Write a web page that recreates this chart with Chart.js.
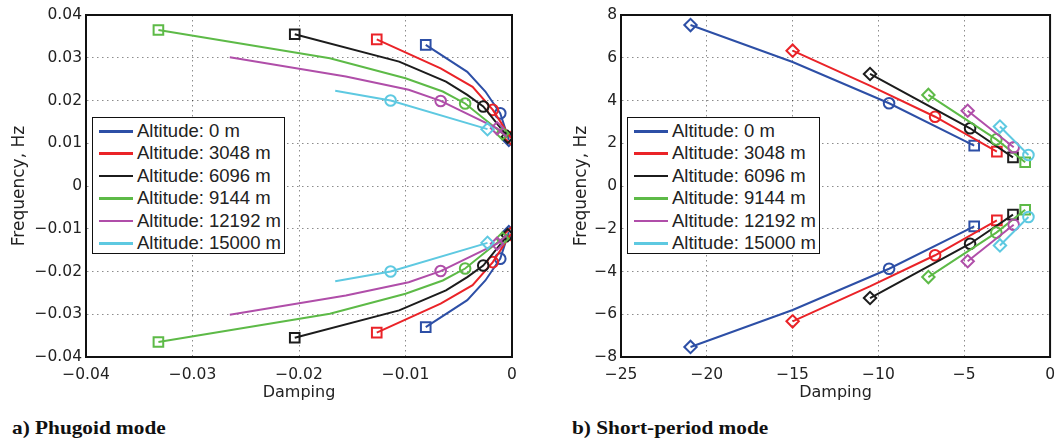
<!DOCTYPE html>
<html>
<head>
<meta charset="utf-8">
<script src="https://cdn.jsdelivr.net/npm/chart.js@4/dist/chart.umd.min.js"></script>
<style>
  html, body { margin: 0; padding: 0; background: #fff; }
  #wrap { position: relative; width: 1064px; height: 439px; overflow: hidden; }
  canvas { position: absolute; top: 0; }
  .legend {
    position: absolute; top: 117px; width: 191px; height: 135px;
    border: 1.5px solid #111; background: #fff;
    font-family: "Liberation Sans", Arial, sans-serif; font-size: 18.5px; color: #222;
  }
  .legend .row { position: absolute; left: 0; height: 22px; line-height: 22px; white-space: nowrap; }
  .legend .swatch { position: absolute; left: 6px; top: 10px; width: 34px; height: 2.5px; }
  .legend .lbl { position: absolute; left: 44px; top: 0; }
  .caption {
    position: absolute; top: 418px; line-height: 19px; white-space: nowrap;
    transform: scaleX(1.12); transform-origin: left top;
    font-family: "Liberation Serif", "Times New Roman", serif; font-weight: bold; font-size: 19px; color: #111;
  }
</style>
</head>
<body>
<div id="wrap">
  <canvas id="phugoid" width="540" height="410" style="left:0"></canvas>
  <canvas id="shortPeriod" width="524" height="410" style="left:540px"></canvas>
  <div class="legend" id="legendA" style="left:92px"></div>
  <div class="legend" id="legendB" style="left:627px"></div>
  <div class="caption" style="left:12px">a) Phugoid mode</div>
  <div class="caption" style="left:572px">b) Short-period mode</div>
</div>
<script>
// --- dados ---
const altitudes = ['0 m', '3048 m', '6096 m', '9144 m', '12192 m', '15000 m'];
const colors = ['#2d4fa6', '#ea2328', '#1c1c1c', '#5dba47', '#b04ea9', '#5ec9e1'];

// Modo fugoide (ramo superior; o inferior é o espelho)
const phugoidDamping = [
  [-0.0081, -0.0042, -0.0025, -0.0011, -0.0003],
  [-0.0127, -0.0067, -0.0037, -0.0018, -0.0001],
  [-0.0204, -0.0106, -0.0062, -0.0042, -0.0027, -0.0004],
  [-0.0332, -0.0171, -0.0100, -0.0065, -0.0044, -0.0009, -0.0004],
  [-0.0265, -0.0156, -0.0097, -0.0067, -0.0014, -0.0005],
  [-0.0166, -0.0114, -0.0023]
];
const phugoidFreq = [
  [0.0330, 0.0267, 0.0221, 0.0170, 0.0108],
  [0.0343, 0.0275, 0.0232, 0.0178, 0.0112],
  [0.0355, 0.0291, 0.0244, 0.0213, 0.0186, 0.0115],
  [0.0365, 0.0299, 0.0252, 0.0221, 0.0193, 0.0123, 0.0113],
  [0.0301, 0.0256, 0.0225, 0.0199, 0.0135, 0.0115],
  [0.0223, 0.0200, 0.0133]
];
const phugoidMarkers = [
  ['rect', null, null, 'circle', 'rectRot'],
  ['rect', null, null, 'circle', 'rectRot'],
  ['rect', null, null, null, 'circle', 'rectRot'],
  ['rect', null, null, null, 'circle', 'rectRot', null],
  [null, null, null, 'circle', 'rectRot', null],
  [null, 'circle', 'rectRot']
];

// Modo de período curto
const shortDamping = [
  [-20.95, -15.0, -9.38, -4.42],
  [-15.0, -10.5, -6.70, -3.10],
  [-10.49, -4.66, -2.16],
  [-7.09, -3.13, -1.45],
  [-4.80, -2.12],
  [-2.92, -1.26]
];
const shortFreq = [
  [7.53, 5.80, 3.87, 1.89],
  [6.33, 4.70, 3.24, 1.61],
  [5.24, 2.70, 1.34],
  [4.26, 2.18, 1.11],
  [3.52, 1.81],
  [2.78, 1.45]
];
const shortMarkers = [
  ['rectRot', null, 'circle', 'rect'],
  ['rectRot', null, 'circle', 'rect'],
  ['rectRot', 'circle', 'rect'],
  ['rectRot', 'circle', 'rect'],
  ['rectRot', 'circle'],
  ['rectRot', 'circle']
];

const phugoidXTicks = [-0.04, 0];
const phugoidYTicks = [-0.04, 0.04];
const shortXTicks = [-25, 0];
const shortYTicks = [-8, 8];

// --- helpers ---
const markerSize = { rect: 6.8, circle: 5.3, rectRot: 6.2 };

function fmt(v, dec) {
  const r = Number(v.toFixed(dec));
  return r < 0 ? '\u2212' + Math.abs(r) : String(r);
}

function buildDatasets(damping, freq, markers) {
  const sets = [];
  damping.forEach((xs, i) => {
    [1, -1].forEach(sign => {
      sets.push({
        data: xs.map((x, j) => ({ x: x, y: sign * freq[i][j] })),
        showLine: true,
        borderColor: colors[i],
        borderWidth: 2,
        backgroundColor: 'rgba(0,0,0,0)',
        pointBackgroundColor: 'rgba(0,0,0,0)',
        pointBorderColor: colors[i],
        pointBorderWidth: 2,
        pointStyle: markers[i].map(m => m || 'circle'),
        pointRadius: markers[i].map(m => m ? markerSize[m] : 0),
        tension: 0,
        order: 5 - i
      });
    });
  });
  return sets;
}

// moldura preta em volta da área do gráfico
const framePlugin = {
  id: 'frame',
  afterDraw(chart) {
    const { ctx, chartArea: a } = chart;
    ctx.save();
    ctx.strokeStyle = '#111';
    ctx.lineWidth = 2;
    ctx.strokeRect(a.left, a.top, a.right - a.left, a.bottom - a.top);
    ctx.restore();
  }
};

function makeChart(id, sets, o) {
  const tickFont = { family: 'DejaVu Sans', size: 15.5 };
  const grid = { color: 'rgba(0,0,0,0.45)', lineWidth: 1, drawTicks: false };
  const border = { display: true, color: '#111', width: 2, dash: [1.5, 3.5] };
  return new Chart(document.getElementById(id), {
    type: 'scatter',
    data: { datasets: sets },
    options: {
      responsive: false,
      animation: false,
      events: [],
      layout: { padding: { top: 15, right: o.padRight, left: 0, bottom: 0 } },
      plugins: { legend: { display: false }, tooltip: { enabled: false } },
      scales: {
        x: {
          type: 'linear', min: o.xTicks[0], max: o.xTicks[1],
          ticks: { stepSize: o.xStep, font: tickFont, color: '#222', padding: 9, maxRotation: 0,
                   callback: v => fmt(v, o.dec) },
          grid: grid, border: border,
          title: { display: true, text: 'Damping', font: { family: 'DejaVu Sans', size: 16 },
                   color: '#222', padding: { top: 0, bottom: 8 } },
          afterFit: s => { s.height = 53; }
        },
        y: {
          type: 'linear', min: o.yTicks[0], max: o.yTicks[1],
          ticks: { stepSize: o.yStep, font: tickFont, color: '#222', padding: 4,
                   callback: v => fmt(v, o.dec) },
          grid: grid, border: border,
          title: { display: true, text: 'Frequency, Hz', font: { family: 'DejaVu Sans', size: 17 },
                   color: '#222', padding: { top: o.yTitlePad, bottom: 0 } },
          afterFit: s => { s.width = o.yWidth; }
        }
      }
    },
    plugins: [framePlugin]
  });
}

function buildLegend(id) {
  const box = document.getElementById(id);
  altitudes.forEach((alt, i) => {
    const row = document.createElement('div');
    row.className = 'row';
    row.style.top = (2 + i * 22.4) + 'px';
    row.innerHTML = `<span class="swatch" style="background:${colors[i]}"></span><span class="lbl">Altitude: ${alt}</span>`;
    box.appendChild(row);
  });
}

makeChart('phugoid', buildDatasets(phugoidDamping, phugoidFreq, phugoidMarkers), {
  xTicks: phugoidXTicks, yTicks: phugoidYTicks, xStep: 0.01, yStep: 0.01, dec: 2,
  padRight: 28, yWidth: 86, yTitlePad: 9
});
makeChart('shortPeriod', buildDatasets(shortDamping, shortFreq, shortMarkers), {
  xTicks: shortXTicks, yTicks: shortYTicks, xStep: 5, yStep: 2, dec: 0,
  padRight: 7, yWidth: 81, yTitlePad: 31
});
buildLegend('legendA');
buildLegend('legendB');
</script>
</body>
</html>
